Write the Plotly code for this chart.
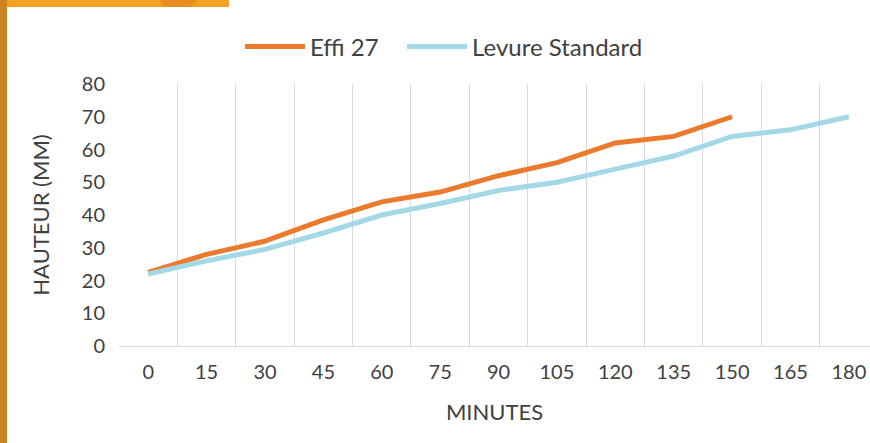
import plotly.graph_objects as go

minutes = ["0", "15", "30", "45", "60", "75", "90", "105", "120", "135", "150", "165", "180"]
effi_27 = [22.5, 28, 32, 38.5, 44, 47, 52, 56, 62, 64, 70]
levure_standard = [22, 26, 29.5, 34.5, 40, 43.5, 47.5, 50, 54, 58, 64, 66, 70]

W, H = 870, 443
L, R, T, B = 119, 870, 84, 346  # plot area in pixels

def px_x(p):
    return (p - L) / (R - L)

def px_y(p):
    return (B - p) / (B - T)

font = "Lato, 'Open Sans', sans-serif"
txt = "#404040"
nb = "\u00a0"

fig = go.Figure()
fig.add_trace(go.Scatter(x=minutes[:len(effi_27)], y=effi_27, mode="lines", name="Effi 27" + nb * 3,
                         line=dict(color="#EC7A2C", width=5)))
fig.add_trace(go.Scatter(x=minutes, y=levure_standard, mode="lines", name="Levure Standard",
                         line=dict(color="#A3D9E6", width=5)))

fig.update_layout(
    width=W, height=H,
    margin=dict(l=L, r=W - R, t=T, b=H - B, pad=0, autoexpand=False),
    paper_bgcolor="white", plot_bgcolor="white",
    font=dict(family=font, color=txt, size=20),
    showlegend=True,
    legend=dict(orientation="h", x=px_x(240), xanchor="left", yref="container",
                y=1 - 47 / H, yanchor="middle", font=dict(size=24, color=txt),
                itemwidth=60, bgcolor="rgba(0,0,0,0)"),
    xaxis=dict(type="category", categoryorder="array", categoryarray=minutes,
               range=[-0.5, -0.5 + (R - L) / 58.39], tickson="boundaries",
               showgrid=True, gridcolor="#D9D9D9", gridwidth=1,
               showline=True, linecolor="#D9D9D9", linewidth=1,
               ticks="", ticklabelstandoff=8, tickfont=dict(size=20, color=txt),
               title=dict(text="MINUTES", font=dict(size=22, color=txt), standoff=22),
               zeroline=False, automargin=False),
    yaxis=dict(range=[0, 80], dtick=10, tick0=0, showgrid=False, zeroline=False,
               showline=False, ticks="", ticklabelstandoff=13,
               tickfont=dict(size=20, color=txt), automargin=False,
               title=dict(text="HAUTEUR (MM)", font=dict(size=22, color=txt), standoff=26)),
)

# decorative orange frame of the page
fig.add_shape(type="rect", xref="paper", yref="paper",
              x0=px_x(0), x1=px_x(229), y0=px_y(7), y1=px_y(0),
              fillcolor="#F4A11F", line=dict(width=0), layer="above")
fig.add_shape(type="path", xref="paper", yref="paper",
              path=f"M {px_x(160)} {px_y(0)} L {px_x(197)} {px_y(0)} L {px_x(190)} {px_y(7)} L {px_x(165)} {px_y(7)} Z",
              fillcolor="#E88D22", line=dict(width=0), layer="above")
fig.add_shape(type="rect", xref="paper", yref="paper",
              x0=px_x(0), x1=px_x(7), y0=px_y(H), y1=px_y(0),
              fillcolor="#CC8420", line=dict(width=0), layer="above")

fig.write_html("out.html", config={"displayModeBar": False},
               post_script="document.body.style.margin='0';")
